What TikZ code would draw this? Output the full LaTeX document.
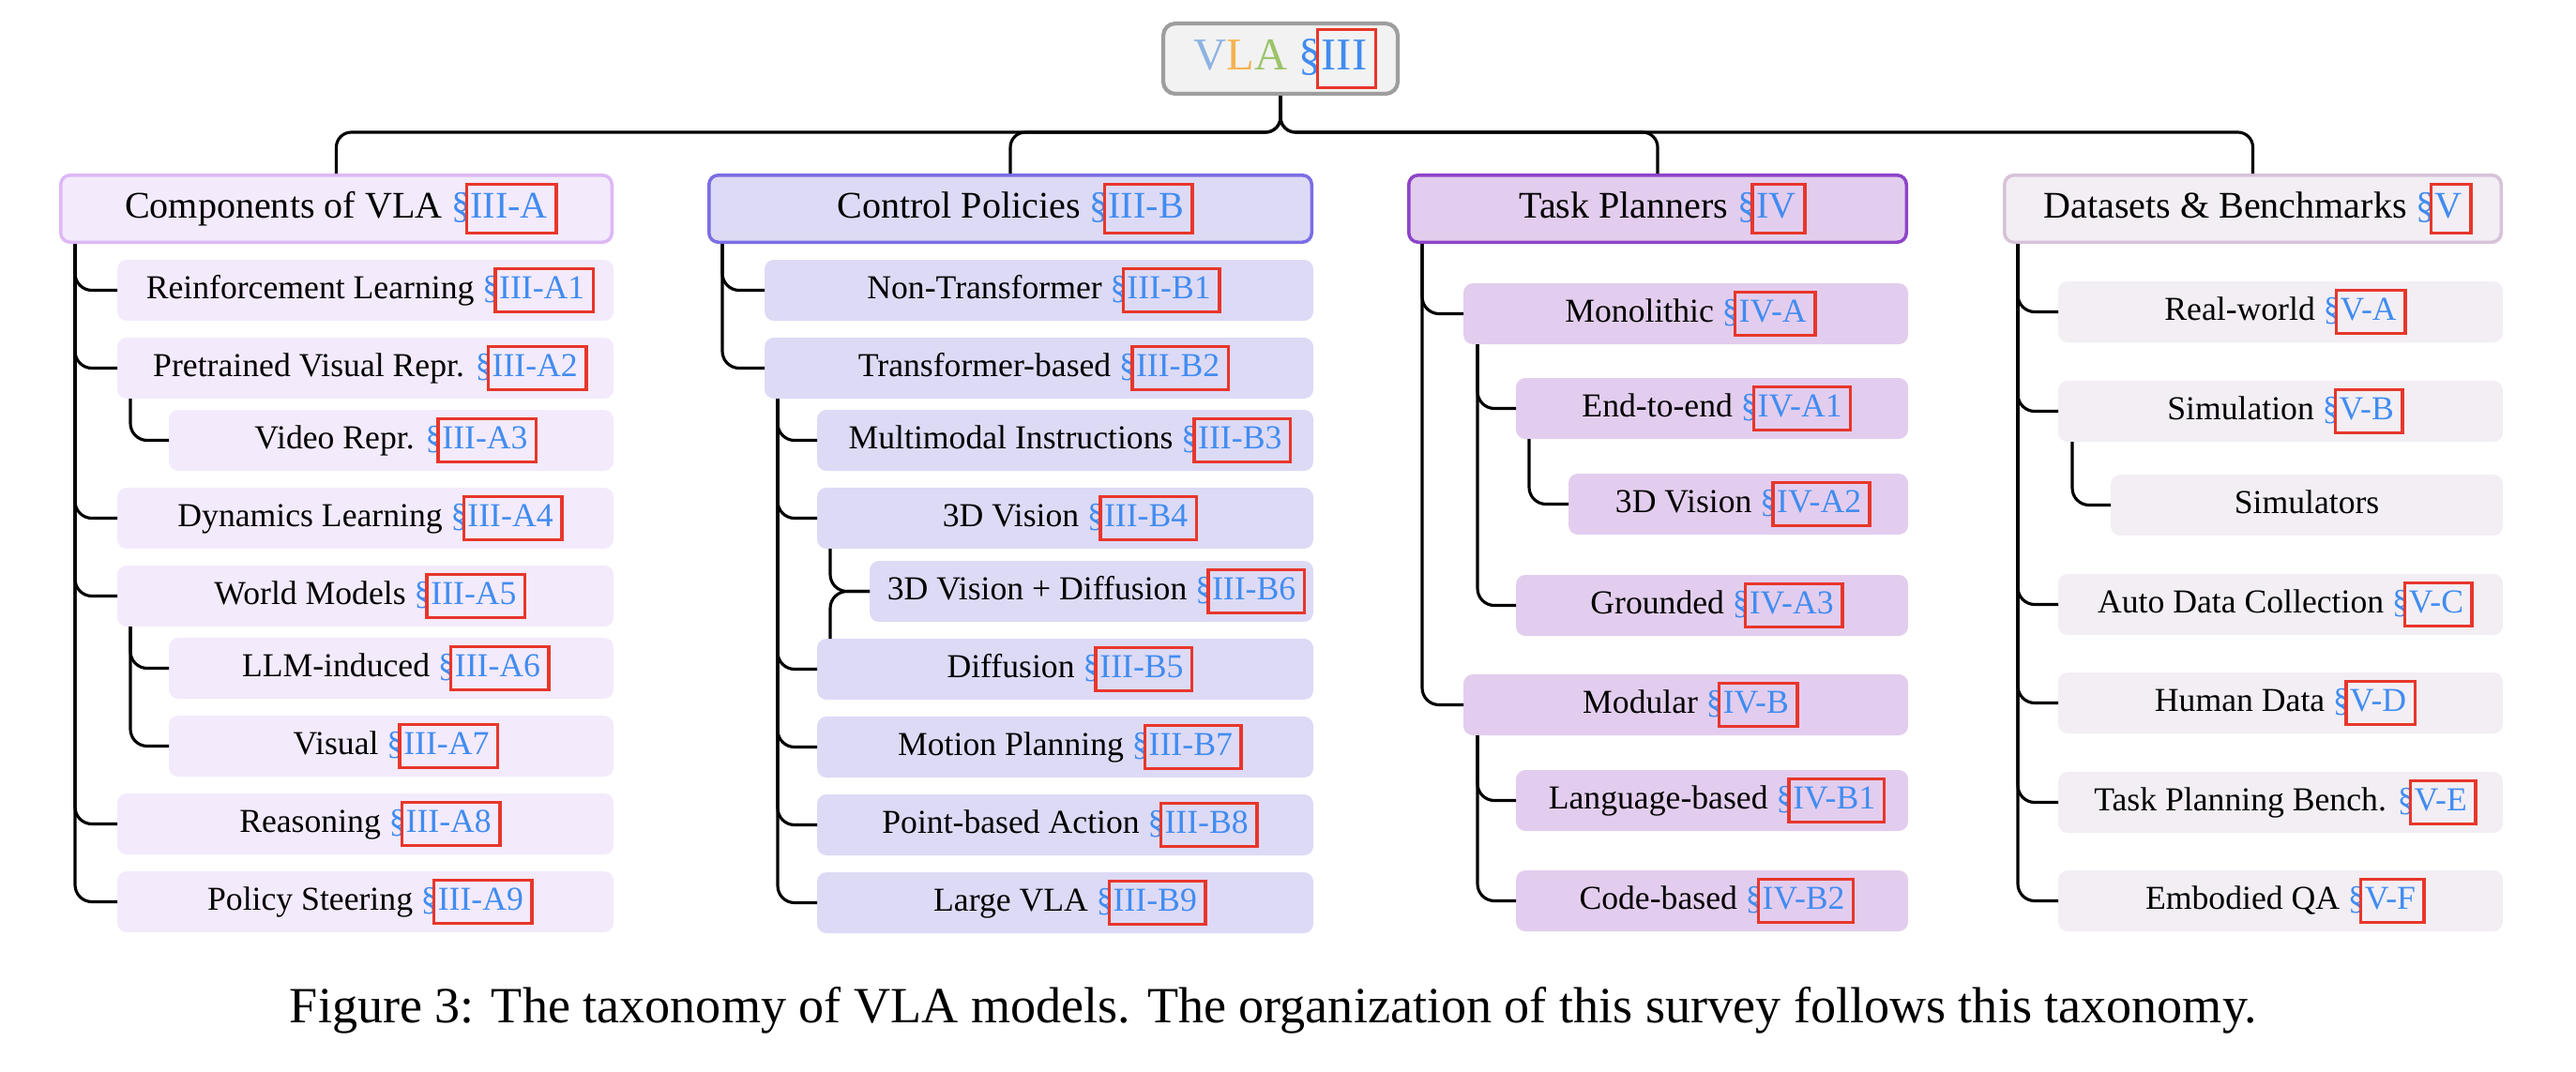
\documentclass[tikz,border=0pt]{standalone}
\usepackage{fontspec}
\setmainfont{Liberation Serif}
\usepackage{xcolor}
\usepackage{tikz}
\usetikzlibrary{positioning}
\definecolor{cRoot}{HTML}{F2F2F2}
\definecolor{cRootLine}{HTML}{9E9E9E}
\definecolor{cComp}{HTML}{F3EAFC}
\definecolor{cCompLine}{HTML}{DDB8F5}
\definecolor{cCtrl}{HTML}{DDDAF6}
\definecolor{cCtrlLine}{HTML}{7B6EE4}
\definecolor{cTask}{HTML}{E3CDEE}
\definecolor{cTaskLine}{HTML}{8E44C8}
\definecolor{cData}{HTML}{F2EEF4}
\definecolor{cDataLine}{HTML}{D7C2D9}
\definecolor{cRef}{HTML}{418CF0}
\definecolor{cLink}{HTML}{E8362B}
\definecolor{cV}{HTML}{8DB3E2}
\definecolor{cL}{HTML}{F4B350}
\definecolor{cA}{HTML}{9BC46A}
\newcommand{\secbox}[1]{{\color{cRef}\S\kern-1.7pt{\color{cLink}\fboxsep=0pt\fboxrule=1pt\fbox{\color{cRef}\kern0.7pt\strut#1\kern2.1pt}}\kern-3.1pt}}
\tikzset{
  base/.style={rounded corners=1mm,align=center,inner sep=0pt,outer sep=0pt,minimum height=6.5mm,font=\fontsize{10.15}{12.2}\selectfont},
  cnode/.style={base,fill=cComp}, pnode/.style={base,fill=cCtrl},
  tnode/.style={base,fill=cTask}, dnode/.style={base,fill=cData},
  head/.style={base,minimum height=7.15mm,line width=1pt,outer sep=0.5pt,font=\fontsize{11.4}{13.7}\selectfont},
  chead/.style={head,fill=cComp,draw=cCompLine}, phead/.style={head,fill=cCtrl,draw=cCtrlLine},
  thead/.style={head,fill=cTask,draw=cTaskLine}, dhead/.style={head,fill=cData,draw=cDataLine},
  rootnode/.style={head,rounded corners=1.3mm,minimum width=25mm,minimum height=7.5mm,line width=1.2pt,outer sep=0.6pt,fill=cRoot,draw=cRootLine,font=\fontsize{13.8}{16.6}\selectfont},
  under/.style={below=#1,anchor=north east},
  conn/.style={line width=0.9pt,rounded corners=1.8mm},
  captext/.style={font=\fontsize{15.4}{18.5}\selectfont,anchor=base}}

\begin{document}
\begin{tikzpicture}[node distance=1.8mm]
\useasboundingbox (0,0) rectangle (274.6mm,-114.2mm);
\node[rootnode] (vla) at (136.5mm,-6.25mm) {{\color{cV}V}{\color{cL}L}{\color{cA}A} \secbox{III}};
\node[chead,minimum width=58.75mm] (comp) at (35.85mm,-22.25mm) {Components of VLA \secbox{III-A}};
\node[phead,minimum width=64.25mm] (ctrl) at (107.7mm,-22.25mm) {Control Policies \secbox{III-B}};
\node[thead,minimum width=53.05mm] (task) at (176.7mm,-22.25mm) {Task Planners \secbox{IV}};
\node[dhead,minimum width=52.95mm] (data) at (240.15mm,-22.25mm) {Datasets \& Benchmarks \secbox{V}};
\node[cnode,minimum width=52.9mm,under=1.7mm of comp.south east] (rl) {Reinforcement Learning \secbox{III-A1}};
\node[cnode,minimum width=52.9mm,under=of rl.south east] (pvr) {Pretrained Visual Repr. \secbox{III-A2}};
\node[cnode,minimum width=47.4mm,under=1.2mm of pvr.south east] (vid) {Video Repr. \secbox{III-A3}};
\node[cnode,minimum width=52.9mm,under=of vid.south east] (dyn) {Dynamics Learning \secbox{III-A4}};
\node[cnode,minimum width=52.9mm,under=of dyn.south east] (wm) {World Models \secbox{III-A5}};
\node[cnode,minimum width=47.4mm,under=1.2mm of wm.south east] (llm) {LLM-induced \secbox{III-A6}};
\node[cnode,minimum width=47.4mm,under=of llm.south east] (vis) {Visual \secbox{III-A7}};
\node[cnode,minimum width=52.9mm,under=of vis.south east] (rea) {Reasoning \secbox{III-A8}};
\node[cnode,minimum width=52.9mm,under=of rea.south east] (ps) {Policy Steering \secbox{III-A9}};
\node[pnode,minimum width=58.5mm,under=1.7mm of ctrl.south east] (nt) {Non-Transformer \secbox{III-B1}};
\node[pnode,minimum width=58.5mm,under=of nt.south east] (tb) {Transformer-based \secbox{III-B2}};
\node[pnode,minimum width=52.9mm,under=1.2mm of tb.south east] (mmi) {Multimodal Instructions \secbox{III-B3}};
\node[pnode,minimum width=52.9mm,under=of mmi.south east] (v3d) {3D Vision \secbox{III-B4}};
\node[pnode,minimum width=47.3mm,under=1.3mm of v3d.south east] (v3dd) {3D Vision + Diffusion \secbox{III-B6}};
\node[pnode,minimum width=52.9mm,under=of v3dd.south east] (dif) {Diffusion \secbox{III-B5}};
\node[pnode,minimum width=52.9mm,under=of dif.south east] (mp) {Motion Planning \secbox{III-B7}};
\node[pnode,minimum width=52.9mm,under=of mp.south east] (pba) {Point-based Action \secbox{III-B8}};
\node[pnode,minimum width=52.9mm,under=of pba.south east] (lvla) {Large VLA \secbox{III-B9}};
\node[tnode,minimum width=47.4mm,under=4.2mm of task.south east] (mono) {Monolithic \secbox{IV-A}};
\node[tnode,minimum width=41.8mm,under=3.6mm of mono.south east] (e2e) {End-to-end \secbox{IV-A1}};
\node[tnode,minimum width=36.2mm,under=3.7mm of e2e.south east] (tv3d) {3D Vision \secbox{IV-A2}};
\node[tnode,minimum width=41.8mm,under=4.3mm of tv3d.south east] (grd) {Grounded \secbox{IV-A3}};
\node[tnode,minimum width=47.4mm,under=4.1mm of grd.south east] (mod) {Modular \secbox{IV-B}};
\node[tnode,minimum width=41.8mm,under=3.7mm of mod.south east] (lang) {Language-based \secbox{IV-B1}};
\node[tnode,minimum width=41.8mm,under=4.2mm of lang.south east] (code) {Code-based \secbox{IV-B2}};
\node[dnode,minimum width=47.4mm,under=4.0mm of data.south east] (real) {Real-world \secbox{V-A}};
\node[dnode,minimum width=47.4mm,under=4.1mm of real.south east] (sim) {Simulation \secbox{V-B}};
\node[dnode,minimum width=41.8mm,under=3.5mm of sim.south east] (simr) {Simulators\strut};
\node[dnode,minimum width=47.4mm,under=4.1mm of simr.south east] (adc) {Auto Data Collection \secbox{V-C}};
\node[dnode,minimum width=47.4mm,under=4.0mm of adc.south east] (hum) {Human Data \secbox{V-D}};
\node[dnode,minimum width=47.4mm,under=4.1mm of hum.south east] (tpb) {Task Planning Bench. \secbox{V-E}};
\node[dnode,minimum width=47.4mm,under=4.0mm of tpb.south east] (eqa) {Embodied QA \secbox{V-F}};
\node[captext] (fig) at (135.75mm,-109mm) {Figure 3: The taxonomy of VLA models. The organization of this survey follows this taxonomy.};
\coordinate (bus) at (0,-14.1mm);
\draw[conn,rounded corners=1.6mm] (vla.south) -- (vla.south |- bus) -| (comp.north);
\draw[conn,rounded corners=1.6mm] (vla.south) -- (vla.south |- bus) -| (ctrl.north);
\draw[conn,rounded corners=1.6mm] (vla.south) -- (vla.south |- bus) -| (task.north);
\draw[conn,rounded corners=1.6mm] (vla.south) -- (vla.south |- bus) -| (data.north);
\draw[conn] ([xshift=1.7mm]comp.south west) |- (rl.west); \draw[conn] ([xshift=1.7mm]comp.south west) |- (pvr.west);
\draw[conn] ([xshift=1.7mm]comp.south west) |- (dyn.west); \draw[conn] ([xshift=1.7mm]comp.south west) |- (wm.west);
\draw[conn] ([xshift=1.7mm]comp.south west) |- (rea.west); \draw[conn] ([xshift=1.7mm]comp.south west) |- (ps.west);
\draw[conn] ([xshift=1.4mm]pvr.south west) |- (vid.west);
\draw[conn] ([xshift=1.4mm]wm.south west) |- (llm.west); \draw[conn] ([xshift=1.4mm]wm.south west) |- (vis.west);
\draw[conn] ([xshift=1.6mm]ctrl.south west) |- (nt.west); \draw[conn] ([xshift=1.6mm]ctrl.south west) |- (tb.west);
\draw[conn] ([xshift=1.4mm]tb.south west) |- (mmi.west); \draw[conn] ([xshift=1.4mm]tb.south west) |- (v3d.west);
\draw[conn] ([xshift=1.4mm]tb.south west) |- (dif.west); \draw[conn] ([xshift=1.4mm]tb.south west) |- (mp.west);
\draw[conn] ([xshift=1.4mm]tb.south west) |- (pba.west); \draw[conn] ([xshift=1.4mm]tb.south west) |- (lvla.west);
\draw[conn] ([xshift=1.4mm]v3d.south west) |- (v3dd.west); \draw[conn] ([xshift=1.4mm]dif.north west) |- (v3dd.west);
\draw[conn] ([xshift=1.6mm]task.south west) |- (mono.west); \draw[conn] ([xshift=1.6mm]task.south west) |- (mod.west);
\draw[conn] ([xshift=1.5mm]mono.south west) |- (e2e.west); \draw[conn] ([xshift=1.5mm]mono.south west) |- (grd.west);
\draw[conn] ([xshift=1.4mm]e2e.south west) |- (tv3d.west);
\draw[conn] ([xshift=1.5mm]mod.south west) |- (lang.west); \draw[conn] ([xshift=1.5mm]mod.south west) |- (code.west);
\draw[conn] ([xshift=1.6mm]data.south west) |- (real.west); \draw[conn] ([xshift=1.6mm]data.south west) |- (sim.west);
\draw[conn] ([xshift=1.6mm]data.south west) |- (adc.west); \draw[conn] ([xshift=1.6mm]data.south west) |- (hum.west);
\draw[conn] ([xshift=1.6mm]data.south west) |- (tpb.west); \draw[conn] ([xshift=1.6mm]data.south west) |- (eqa.west);
\draw[conn] ([xshift=1.5mm]sim.south west) |- (simr.west);
\end{tikzpicture}
\end{document}
